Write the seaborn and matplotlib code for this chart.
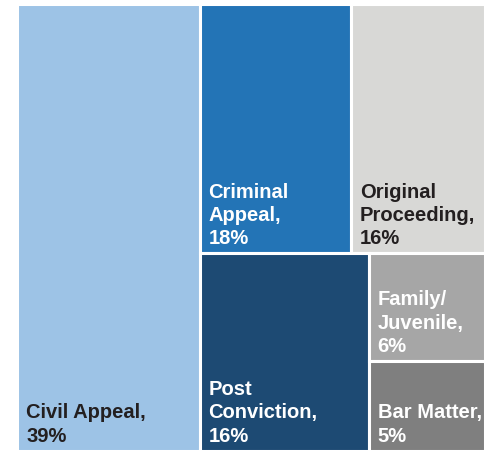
import matplotlib
matplotlib.use("Agg")
import matplotlib.pyplot as plt
from matplotlib.patches import Rectangle
import seaborn as sns

# case types and share of filings (%)
names = ["Civil Appeal", "Criminal\nAppeal", "Original\nProceeding",
         "Post\nConviction", "Family/\nJuvenile", "Bar Matter"]
values = [39, 18, 16, 16, 6, 5]
colors = ["#9dc3e6", "#2374b6", "#d8d8d6", "#1d4a73", "#a6a6a6", "#7f7f7f"]
text_colors = ["#231f20", "white", "#231f20", "white", "white", "white"]

# nesting of the tiles (indices into the lists above)
tree = [0, [[1, 2], [3, [4, 5]]]]

sns.set_style("white")
plt.rcParams["font.family"] = ["Liberation Sans", "DejaVu Sans"]


def total(node):
    if isinstance(node, list):
        return sum(total(n) for n in node)
    return values[node]


def layout(node, x, y, w, h, depth, out):
    # slice-and-dice: alternate horizontal / vertical splits
    if not isinstance(node, list):
        out[node] = (x, y, w, h)
        return
    s = total(node)
    pos = 0.0
    for child in node:
        f = total(child) / s
        if depth % 2 == 0:
            layout(child, x + pos * w, y, w * f, h, depth + 1, out)
        else:
            layout(child, x, y + pos * h, w, h * f, depth + 1, out)
        pos += f


rects = {}
layout(tree, 0, 0, 1, 1, 0, rects)

fig = plt.figure(figsize=(4.93, 4.51), dpi=100)
ax = fig.add_axes([17 / 493, 0.5 / 451, 468 / 493, 446.5 / 451])
ax.set_xlim(0, 1)
ax.set_ylim(1, 0)
ax.axis("off")

for i, (x, y, w, h) in rects.items():
    ax.add_patch(Rectangle((x, y), w, h, facecolor=colors[i],
                           edgecolor="white", linewidth=2.2))
    ax.annotate(f"{names[i]},\n{values[i]}%", xy=(x, y + h),
                xytext=(6.5, 3.5), textcoords="offset points",
                ha="left", va="bottom", fontsize=14.5, fontweight="bold",
                color=text_colors[i], linespacing=1.28)

fig.savefig("out.png", dpi=100)
